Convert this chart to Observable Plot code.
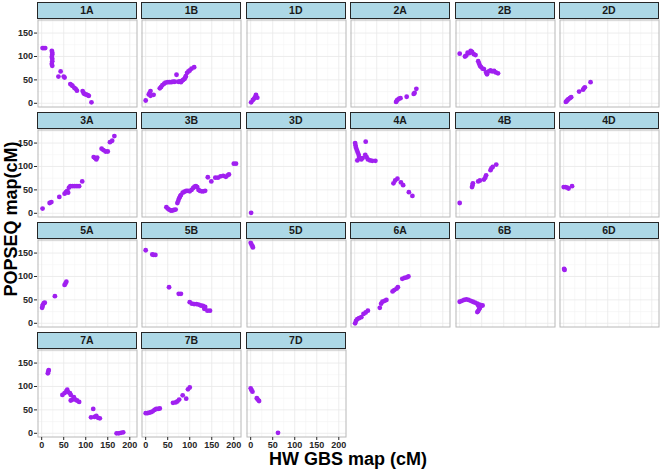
<!DOCTYPE html>
<html><head><meta charset="utf-8">
<script src="https://cdn.jsdelivr.net/npm/d3@7"></script>
<script src="https://cdn.jsdelivr.net/npm/@observablehq/plot@0.6"></script>
<style>
body{margin:0;background:#fff;font-family:"Liberation Sans",Arial,sans-serif;}
#chart{position:relative;width:660px;height:469px;overflow:hidden;}
#chart svg{position:absolute;overflow:visible;}
.strip{position:absolute;background:#ADD8E6;border:1px solid #262626;box-sizing:border-box;font-weight:bold;font-size:10.5px;line-height:15px;text-align:center;color:#1a1a1a;}
.xtitle{position:absolute;left:0;width:696px;top:451.5px;text-align:center;font-weight:bold;font-size:18px;line-height:14px;color:#000;}
.ytitle{position:absolute;left:11px;top:219px;transform:translate(-50%,-50%) rotate(-90deg);white-space:nowrap;font-weight:bold;font-size:18px;line-height:14px;color:#000;}
</style></head>
<body><div id="chart"></div>
<script>
// ---- data (HW GBS map cM, POPSEQ map cM) ----
const chromosomes = ["1A","1B","1D","2A","2B","2D","3A","3B","3D","4A","4B","4D","5A","5B","5D","6A","6B","6D","7A","7B","7D"];
const xTicks = [0, 50, 100, 150, 200];
const yTicks = [0, 50, 100, 150];
const xMinorTicks = [25, 75, 125, 175];
const yMinorTicks = [25, 75, 125, 175];

const c1A = [[2,118],[5,118],[8,118],[23,112],[24,108],[24,104],[23,99],[24,95],[24,90],[23,84],[24,80],[43,68],[38,57],[50,57],[52,55],[65,41],[68,39],[70,37],[74,33],[77,31],[80,27],[93,26],[95,22],[97,20],[100,19],[103,18],[105,17],[107,16],[113,2]];
const c1B = [[0,6],[7,19],[9,22],[11,26],[11,16],[18,18],[32,32],[35,35],[38,39],[42,42],[45,44],[50,45],[54,45],[58,45],[62,46],[66,46],[70,61],[74,46],[78,47],[80,45],[82,48],[85,50],[88,52],[90,55],[91,58],[94,65],[97,68],[100,70],[104,74],[110,77]];
const c1D = [[1,2],[5,7],[8,10],[10,13],[12,18],[15,12]];
const c2A = [[94,3],[96,6],[98,8],[101,10],[104,11],[118,14],[134,20],[136,22],[140,31]];
const c2B = [[0,106],[12,100],[15,102],[18,108],[22,107],[25,112],[28,110],[32,105],[36,103],[42,90],[44,85],[46,80],[48,78],[52,74],[55,73],[60,66],[62,62],[66,68],[70,70],[74,68],[78,69],[82,66],[87,64]];
const c2D = [[5,3],[7,5],[9,7],[11,9],[14,11],[17,13],[35,25],[44,29],[46,32],[48,34],[61,45]];
const c3A = [[2,10],[18,22],[22,24],[40,35],[52,42],[55,45],[58,48],[60,44],[62,55],[65,58],[70,58],[75,58],[80,58],[85,58],[92,68],[118,120],[121,118],[124,115],[126,119],[136,138],[140,135],[145,132],[150,132],[155,152],[160,155],[165,165]];
const c3B = [[47,13],[50,10],[53,8],[57,6],[60,6],[64,7],[68,8],[72,22],[74,27],[76,32],[78,36],[80,39],[84,44],[88,46],[92,48],[96,48],[100,47],[104,50],[108,54],[111,57],[114,58],[117,56],[120,50],[123,48],[127,47],[131,47],[135,48],[141,77],[149,68],[158,76],[164,76],[170,79],[176,80],[182,78],[186,81],[189,83],[200,106],[205,106]];
const c3D = [[1,1]];
const c4A = [[1,150],[2,145],[3,140],[5,135],[7,130],[9,125],[10,120],[12,118],[6,113],[15,115],[18,118],[25,153],[24,125],[27,120],[30,115],[35,113],[40,112],[47,112],[88,64],[92,70],[97,74],[105,66],[110,60],[123,45],[131,37]];
const c4B = [[0,22],[28,56],[29,60],[30,64],[42,68],[46,70],[55,72],[58,76],[60,81],[70,92],[72,96],[75,99],[83,104]];
const c4D = [[0,56],[4,56],[8,55],[11,53],[19,58]];
const c5A = [[1,33],[2,37],[3,40],[5,43],[7,44],[30,58],[52,82],[54,85],[56,89]];
const c5B = [[0,156],[15,147],[18,146],[22,146],[53,77],[75,63],[80,63],[100,45],[105,42],[110,41],[115,41],[120,40],[125,38],[130,37],[133,31],[135,35],[140,27],[146,27]];
const c5D = [[0,172],[2,168],[4,165],[5,162]];
const c6A = [[1,0],[3,5],[6,9],[10,11],[15,13],[20,20],[25,23],[30,27],[57,33],[60,42],[63,46],[68,48],[72,50],[86,68],[90,71],[95,74],[98,77],[108,95],[113,97],[118,98],[122,100]];
const c6B = [[0,46],[5,48],[10,50],[15,51],[20,50],[25,48],[30,46],[35,44],[40,42],[42,38],[45,40],[48,38],[52,38],[44,30],[42,26],[40,24],[46,33]];
const c6D = [[1,116],[2,114]];
const c7A = [[14,128],[15,132],[16,135],[47,82],[52,86],[56,90],[58,93],[60,88],[64,86],[66,82],[66,70],[70,72],[73,77],[76,72],[80,70],[85,67],[112,34],[117,52],[120,35],[124,37],[128,33],[132,32],[170,0],[175,0],[180,1],[185,2]];
const c7B = [[0,43],[4,43],[8,44],[12,45],[16,47],[20,50],[24,52],[28,52],[32,53],[62,65],[68,66],[72,68],[76,72],[84,81],[92,74],[96,94],[100,98]];
const c7D = [[0,96],[2,92],[4,89],[14,75],[16,72],[19,69],[62,1]];

const series = [c1A,c1B,c1D,c2A,c2B,c2D,c3A,c3B,c3D,c4A,c4B,c4D,c5A,c5B,c5D,c6A,c6B,c6D,c7A,c7B,c7D];

// ---- layout ----
const chart = document.getElementById("chart");
const ncol = 6, panelW = 100, panelH = 88, stripH = 17;
const left0 = 37, colStep = 104.4, top0 = 2, rowStep = 110;
const xDomain = [-9.5, 217.5], yDomain = [-9, 179];
const nrow = Math.ceil(chromosomes.length / ncol);

chromosomes.forEach((name, i) => {
  const r = Math.floor(i / ncol), c = i % ncol;
  const px = left0 + c * colStep;
  const sy = top0 + r * rowStep;
  const py = sy + stripH;
  const hasY = c === 0, hasX = r === nrow - 1;
  const ml = hasY ? left0 : 0, mb = hasX ? 14 : 0;
  const data = series[i].map(([x, y]) => ({x, y}));

  const strip = document.createElement("div");
  strip.className = "strip";
  strip.style.left = px + "px"; strip.style.top = sy + "px";
  strip.style.width = panelW + "px"; strip.style.height = stripH + "px";
  strip.textContent = name;
  chart.appendChild(strip);

  const svg = Plot.plot({
    width: panelW + ml, height: panelH + mb,
    marginLeft: ml, marginRight: 0, marginTop: 0, marginBottom: mb,
    x: {domain: xDomain, axis: null},
    y: {domain: yDomain, axis: null},
    style: {fontFamily: "'Liberation Sans', Arial, sans-serif", fontSize: "9px", fontWeight: "bold", color: "#262626", background: "transparent"},
    marks: [
      Plot.gridX(xMinorTicks, {stroke: "#f3f3f3", strokeOpacity: 1, strokeWidth: 0.6}),
      Plot.gridY(yMinorTicks, {stroke: "#f3f3f3", strokeOpacity: 1, strokeWidth: 0.6}),
      Plot.gridX(xTicks, {stroke: "#e8e8e8", strokeOpacity: 1, strokeWidth: 0.8}),
      Plot.gridY(yTicks, {stroke: "#e8e8e8", strokeOpacity: 1, strokeWidth: 0.8}),
      Plot.dot(data, {x: "x", y: "y", r: 2.4, fill: "#A020F0", stroke: null, clip: true}),
      Plot.frame({stroke: "#b8b8b8", inset: 0.5}),
      hasY ? Plot.axisY({ticks: yTicks, tickSize: 3, tickPadding: 1.5, label: null}) : null,
      hasX ? Plot.axisX({ticks: xTicks, tickSize: 3, tickPadding: 1, label: null}) : null
    ]
  });
  svg.style.left = (px - ml) + "px";
  svg.style.top = py + "px";
  chart.appendChild(svg);
});

const xt = document.createElement("div");
xt.className = "xtitle"; xt.textContent = "HW GBS map (cM)";
chart.appendChild(xt);
const yt = document.createElement("div");
yt.className = "ytitle"; yt.textContent = "POPSEQ map(cM)";
chart.appendChild(yt);
</script>
</body></html>
